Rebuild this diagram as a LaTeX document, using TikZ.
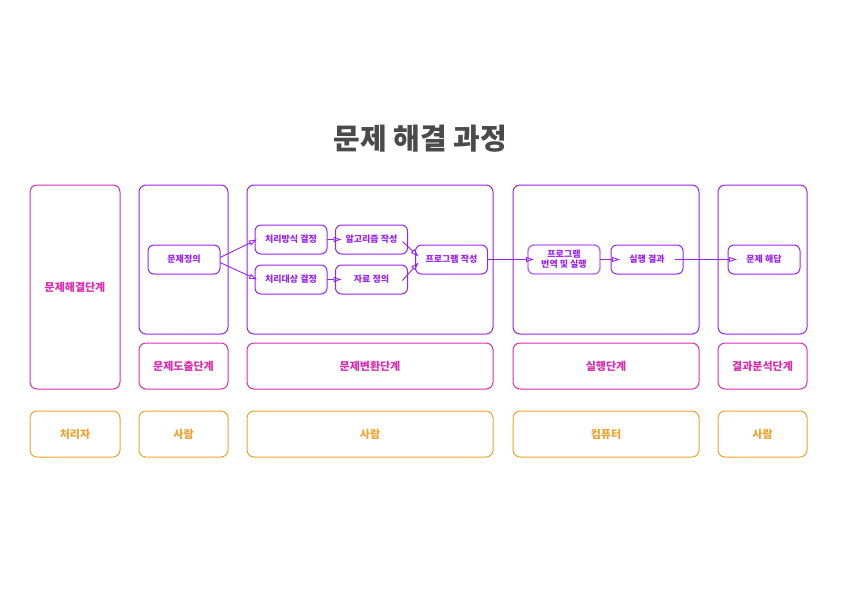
\documentclass[tikz,border=0pt]{standalone}
\usepackage{fontspec}
\setmainfont{Noto Sans CJK KR}
\usetikzlibrary{arrows.meta,calc}
\definecolor{pur}{HTML}{9A22F2}
\definecolor{lpur}{HTML}{B86CF5}
\definecolor{mag}{HTML}{D92DAE}
\definecolor{org}{HTML}{F0A12E}
\definecolor{ttl}{HTML}{4A4A4A}
\tikzset{
  base/.style={rounded corners=7pt, line width=1pt, inner sep=0pt, outer sep=0pt, align=center, font=\bfseries\fontsize{11}{13}\selectfont},
  pbox/.style={base, draw=pur},
  mbox/.style={base, draw=mag, text=mag},
  obox/.style={base, draw=org, text=org},
  inner/.style={rounded corners=6pt, draw=pur, line width=1pt, text=pur, minimum width=72pt, minimum height=29pt, inner sep=0pt, outer sep=0pt, align=center, font=\bfseries\fontsize{9}{10}\selectfont},
  arr/.style={draw=pur, line width=0.9pt, -{Triangle[open, length=8pt, width=5pt]}}
}
\begin{document}
\begin{tikzpicture}[x=1pt,y=-1pt]
\useasboundingbox (0,0) rectangle (842,595);
\node[font=\bfseries\fontsize{29}{33}\selectfont, text=ttl] (title) at (420,139) {문제 해결 과정};
% left column
\node[mbox, minimum width=90pt, minimum height=204pt] (lc) at (75,287) {문제해결단계};
% top purple boxes
\node[pbox, minimum width=89pt, minimum height=149pt] (t2) at (183.5,259.5) {};
\node[pbox, minimum width=246pt, minimum height=149pt] (t3) at (370,259.5) {};
\node[pbox, minimum width=186pt, minimum height=149pt] (t4) at (606,259.5) {};
\node[pbox, minimum width=89pt, minimum height=149pt] (t5) at (762.5,259.5) {};
% magenta stage boxes
\node[mbox, minimum width=89pt, minimum height=46pt] (m2) at (183.5,366) {문제도출단계};
\node[mbox, minimum width=246pt, minimum height=46pt] (m3) at (370,366) {문제변환단계};
\node[mbox, minimum width=186pt, minimum height=46pt] (m4) at (606,366) {실행단계};
\node[mbox, minimum width=89pt, minimum height=46pt] (m5) at (762.5,366) {결과분석단계};
% orange row
\node[obox, minimum width=90pt, minimum height=46pt] (o1) at (75,434) {처리자};
\node[obox, minimum width=89pt, minimum height=46pt] (o2) at (183.5,434) {사람};
\node[obox, minimum width=246pt, minimum height=46pt] (o3) at (370,434) {사람};
\node[obox, minimum width=186pt, minimum height=46pt] (o4) at (606,434) {컴퓨터};
\node[obox, minimum width=89pt, minimum height=46pt] (o5) at (762.5,434) {사람};
% inner nodes
\node[inner] (mj) at (184,259.5) {문제정의};
\node[inner] (cb) at (291,239.5) {처리방식 결정};
\node[inner] (cd) at (291,279.5) {처리대상 결정};
\node[inner] (al) at (371.5,239.5) {알고리즘 작성};
\node[inner] (jr) at (371.5,279.5) {자료 정의};
\node[inner] (pw) at (451.5,259.5) {프로그램 작성};
\node[inner, draw=lpur, line width=1.4pt] (pr) at (564,259.5) {프로그램\\번역 및 실행};
\node[inner] (sr) at (647,259.5) {실행 결과};
\node[inner] (ha) at (764,259.5) {문제 해답};
% arrows
\draw[arr] ($(mj.east)+(0,-2)$) -- ($(cb.west)+(2,0)$);
\draw[arr] ($(mj.east)+(0,3)$) -- ($(cd.west)+(2,0)$);
\draw[arr] (cb.east) -- ($(al.west)+(6,0)$);
\draw[arr] (cd.east) -- ($(jr.west)+(6,0)$);
\draw[arr] ($(al.east)+(-5,2)$) -- ($(pw.west)+(3,-3)$);
\draw[arr] ($(jr.east)+(-5,1)$) -- ($(pw.west)+(3,3)$);
\draw[arr] (pw.east) -- ($(pr.west)+(6,0)$);
\draw[arr] (pr.east) -- ($(sr.west)+(9,0)$);
\draw[arr] ($(sr.east)+(-8,0)$) -- ($(ha.west)+(9,0)$);
\end{tikzpicture}
\end{document}
